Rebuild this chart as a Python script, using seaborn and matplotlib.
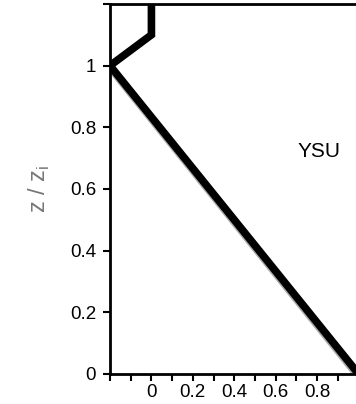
import matplotlib
matplotlib.use("Agg")
import matplotlib.pyplot as plt
import seaborn as sns
import pandas as pd
from matplotlib.ticker import MultipleLocator, FuncFormatter

# data
ysu_flux = [1.0, -0.2, 0.0, 0.0]
ysu_height = [0.0, 1.0, 1.1, 1.2]
ref_flux = [0.985, -0.2]
ref_height = [-0.005, 0.985]
scheme_label = "YSU"

sns.set_theme(style="white")
plt.rcParams['font.family'] = ['Liberation Sans', 'DejaVu Sans']

fig = plt.figure(figsize=(3.56, 4.04), dpi=100)
ax = fig.add_axes([110/356, 30/404, 290/356, 370/404])

ref_df = pd.DataFrame({"x": ref_flux, "y": ref_height})
ysu_df = pd.DataFrame({"x": ysu_flux, "y": ysu_height})
sns.lineplot(data=ref_df, x="x", y="y", sort=False, estimator=None, ax=ax,
             color="#aaaaaa", linewidth=3.0)
sns.lineplot(data=ysu_df, x="x", y="y", sort=False, estimator=None, ax=ax,
             color="black", linewidth=5.5, solid_joinstyle="miter")

ax.set_xlim(-0.2, 1.2)
ax.set_ylim(0, 1.2)
ax.xaxis.set_major_locator(MultipleLocator(0.1))
ax.yaxis.set_major_locator(MultipleLocator(0.2))

def xfmt(v, pos):
    k = round(v * 10)
    if k < 0 or k % 2 == 1 or k > 8:
        return ""
    return "0" if k == 0 else f"{v:.1f}"

def yfmt(v, pos):
    k = round(v * 10)
    if k == 0:
        return "0"
    if k == 10:
        return "1"
    if k > 10:
        return ""
    return f"{v:.1f}"

ax.xaxis.set_major_formatter(FuncFormatter(xfmt))
ax.yaxis.set_major_formatter(FuncFormatter(yfmt))
ax.tick_params(axis="both", direction="out", length=5, width=1.5, colors="black",
               labelsize=13.5, bottom=True, left=True)
ax.tick_params(axis="y", pad=5)
ax.tick_params(axis="x", pad=2)
for s in ax.spines.values():
    s.set_color("black")
    s.set_linewidth(2)

ax.set_xlabel("")
ax.set_ylabel("z / z$_\\mathregular{i}$", color="#777777", fontsize=17, labelpad=13)
ax.text(0.81, 0.72, scheme_label, ha="center", va="center", fontsize=15, color="black")

fig.savefig("out.png", dpi=100)
